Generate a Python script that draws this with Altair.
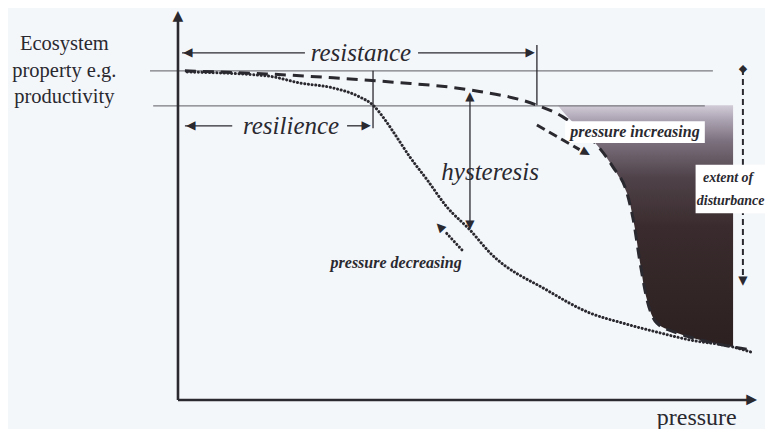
import altair as alt
import pandas as pd

# ---- data (pressure 0-100 along x, ecosystem property 0-100 along y) ----
inc_pressure = [1.2, 15.4, 26.9, 37.3, 50.6, 62.2, 66.7, 72.6, 75.4, 77.8, 78.9, 80.2, 81.3, 83.0, 86.5, 90.5, 96.2, 99.7]
inc_property = [84.4, 83.6, 82.6, 81.5, 79.5, 75.6, 72.6, 65.4, 59.7, 53.1, 46.2, 34.1, 25.6, 19.7, 17.2, 15.4, 13.6, 12.8]

dec_pressure = [1.6, 15.4, 21.1, 26.9, 31.5, 33.8, 35.9, 38.0, 40.2, 43.2, 46.6, 50.6, 54.1, 63.9, 71.4, 77.1, 83.0, 88.7, 96.2, 99.7]
dec_property = [84.1, 83.1, 81.3, 80.0, 77.7, 75.6, 71.8, 67.2, 62.3, 56.4, 49.5, 43.6, 37.7, 28.2, 22.3, 19.7, 17.4, 15.4, 13.6, 12.1]

shade_property = [75.6, 72.6, 65.4, 59.7, 53.1, 46.2, 34.1, 25.6, 19.7, 17.2, 15.4, 13.6]
shade_pressure = [65.8, 67.5, 72.6, 75.4, 77.8, 78.9, 80.2, 81.3, 83.0, 86.5, 90.5, 96.2]
shade_right = 96.2

ref_levels = [84.4, 75.4]
ref_start = [-4.85, -4.3]
ref_end = [92.7, 91.3]

# annotation segments: x, x2, y, y2
solid_segments = [
    (0.7, 22.0, 89.0, 89.0), (41.6, 61.0, 89.0, 89.0), (62.2, 62.2, 91.0, 75.6),   # resistance
    (1.2, 9.4, 70.3, 70.3), (29.3, 32.5, 70.3, 70.3), (33.8, 33.8, 84.4, 69.7),     # resilience
    (50.6, 50.6, 77.5, 45.0),                                                        # hysteresis
]
axis_segments = [(0, 0, 0, 98), (0, 99.0, 0, 0)]
dashed_arrow = [(62.2, 69.6, 70.5, 64.2)]
extent_arrow = [(97.9, 97.9, 84.9, 31.5)]
dotted_arrow = [(49.2, 46.2, 38.5, 43.3)]

# arrow heads: x, y, angle (clockwise from up)
heads = [
    (1.6, 89.0, 270), (61.2, 89.0, 90),
    (2.1, 70.3, 270), (32.8, 70.3, 90),
    (50.6, 77.9, 0), (50.6, 44.6, 180),
    (70.8, 63.3, 119), (45.3, 44.6, 316),
    (97.9, 30.2, 180),
]
axis_heads = [(0, 98.4, 0), (99.4, 0, 90)]
diamonds = [(97.9, 84.9)]

white_boxes = [(67.1, 91.3, 71.5, 65.9), (89.7, 103.0, 60.3, 47.9)]

big_labels = ["resistance", "resilience", "hysteresis"]
big_x = [31.7, 19.6, 54.1]
big_y = [89.0, 70.3, 58.5]

small_labels = ["pressure increasing", "pressure decreasing"]
small_x = [79.2, 37.8]
small_y = [68.7, 35.1]

extent_labels = ["extent of", "disturbance"]
extent_x = [91.0, 89.9]
extent_y = [56.9, 51.0]

ylabel_lines = ["Ecosystem", "property e.g.", "productivity"]
ylabel_x = [-19.7, -19.7, -19.7]
ylabel_y = [91.3, 84.4, 77.7]

xlabel = ["pressure"]
xlabel_x = [89.9]
xlabel_y = [-4.6]

# ---- chart ----
INK = "#2a2930"
FONT = "Liberation Serif"
xs = alt.Scale(domain=[-29.46, 101.73], nice=False, zero=False)
ys = alt.Scale(domain=[-7.44, 100.51], nice=False, zero=False)


def X(f="p"):
    return alt.X(f"{f}:Q", scale=xs, axis=None)


def Y(f="q"):
    return alt.Y(f"{f}:Q", scale=ys, axis=None)


def seg_df(segs):
    return pd.DataFrame(segs, columns=["p", "p2", "q", "q2"])


def rules(segs, **kw):
    return alt.Chart(seg_df(segs)).mark_rule(**kw).encode(
        x=X(), x2="p2:Q", y=Y(), y2="q2:Q")


def glyph_layer(h, glyph, size):
    df = pd.DataFrame(h, columns=["p", "q", "ang"])
    df["g"] = glyph
    return alt.Chart(df).mark_text(font="DejaVu Sans", fontSize=size, color=INK,
                                   align="center", baseline="middle").encode(
        x=X(), y=Y(), text="g:N", angle=alt.Angle("ang:Q", scale=None))


def text_layer(labels, xv, yv, **kw):
    df = pd.DataFrame({"t": labels, "p": xv, "q": yv})
    return alt.Chart(df).mark_text(font=FONT, color=INK, baseline="middle", **kw).encode(
        x=X(), y=Y(), text="t:N")


shade = alt.Chart(pd.DataFrame({"q": shade_property, "p": shade_pressure,
                                "pr": [shade_right] * len(shade_property)})).mark_area(
    orient="horizontal", interpolate="monotone",
    fill=alt.LinearGradient(gradient="linear", x1=0, y1=0, x2=0, y2=1, stops=[
        alt.GradientStop(color="#d2ccd8", offset=0),
        alt.GradientStop(color="#aca3b2", offset=0.06),
        alt.GradientStop(color="#7b707d", offset=0.15),
        alt.GradientStop(color="#4f4249", offset=0.3),
        alt.GradientStop(color="#3a2c2e", offset=0.5),
        alt.GradientStop(color="#2c2020", offset=1),
    ])).encode(y=Y(), x=X(), x2="pr:Q")

ref_df = pd.DataFrame({"p": ref_start, "p2": ref_end, "q": ref_levels})
reflines = alt.Chart(ref_df).mark_rule(color="#7a7a80", strokeWidth=1.2).encode(
    x=X(), x2="p2:Q", y=Y())

inc_line = alt.Chart(pd.DataFrame({"p": inc_pressure, "q": inc_property})).mark_line(
    interpolate="monotone", color=INK, strokeWidth=3, strokeDash=[11, 7]).encode(x=X(), y=Y())
dec_line = alt.Chart(pd.DataFrame({"p": dec_pressure, "q": dec_property})).mark_line(
    interpolate="monotone", color=INK, strokeWidth=3, strokeDash=[0.1, 3.6], strokeCap="round").encode(x=X(), y=Y())

extent_line = rules(extent_arrow, color=INK, strokeWidth=2, strokeDash=[6, 4])

boxes = alt.Chart(seg_df(white_boxes)).mark_rect(color="#ffffff").encode(
    x=X(), x2="p2:Q", y=Y(), y2="q2:Q")

solid = rules(solid_segments, color=INK, strokeWidth=1.3)
axes = rules(axis_segments, color=INK, strokeWidth=2.6)
dashed_arr = rules(dashed_arrow, color=INK, strokeWidth=3, strokeDash=[9, 5])
dotted_arr = rules(dotted_arrow, color=INK, strokeWidth=3, strokeDash=[0.1, 3.6], strokeCap="round")

chart = alt.layer(
    shade, reflines, extent_line, inc_line, dec_line, boxes,
    solid, axes, dashed_arr, dotted_arr,
    glyph_layer(heads, "▲", 12), glyph_layer(axis_heads, "▲", 14),
    glyph_layer([(d[0], d[1], 0) for d in diamonds], "◆", 11),
    text_layer(big_labels, big_x, big_y, fontSize=25, fontStyle="italic", align="center"),
    text_layer(small_labels, small_x, small_y, fontSize=16, fontStyle="italic", fontWeight="bold", align="center"),
    text_layer(extent_labels, extent_x, extent_y, fontSize=14, fontStyle="italic", fontWeight="bold", align="left"),
    text_layer(ylabel_lines, ylabel_x, ylabel_y, fontSize=20.5, align="center"),
    text_layer(xlabel, xlabel_x, xlabel_y, fontSize=24, align="center"),
).properties(
    width=757, height=421, background="#f4f7fa", padding=0,
    autosize=alt.AutoSizeParams(type="none"),
).configure_view(stroke=None)

chart.save("out.html", embed_options={"renderer": "svg", "actions": False})
